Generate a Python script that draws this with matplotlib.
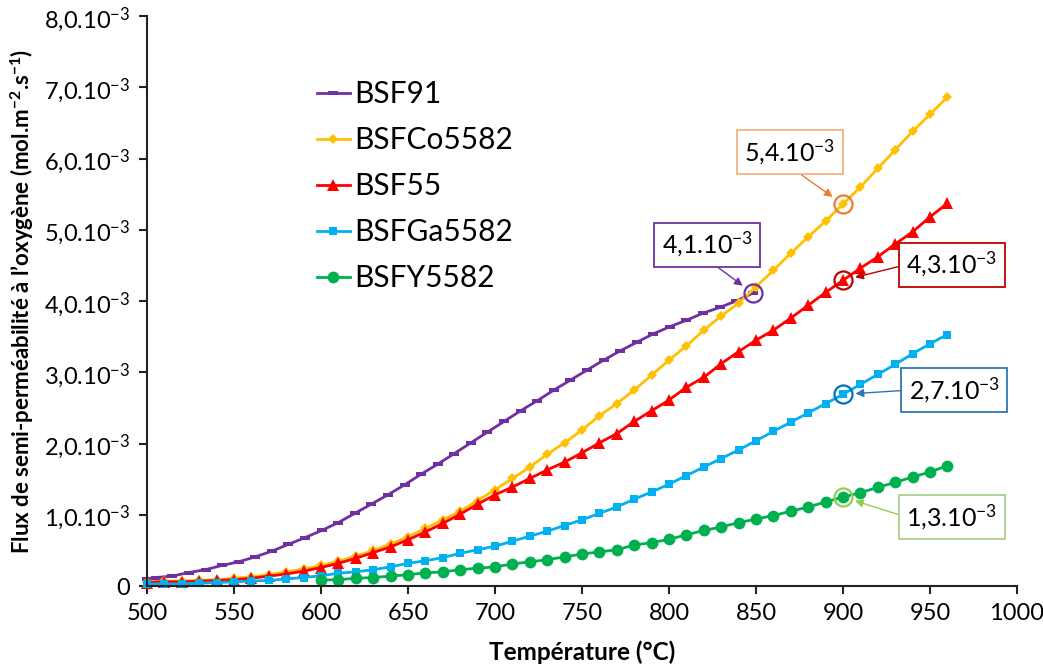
import matplotlib
matplotlib.use("Agg")
import matplotlib.pyplot as plt
from matplotlib.path import Path

plt.rcParams["font.family"] = ["Lato", "DejaVu Sans"]
plt.rcParams["mathtext.fontset"] = "custom"
plt.rcParams["mathtext.rm"] = "Lato"
plt.rcParams["mathtext.it"] = "Lato:italic"
plt.rcParams["mathtext.bf"] = "Lato:bold"

# --- data (flux in 1e-3 mol.m-2.s-1) ---------------------------------------
temp_bsf91 = [500, 505, 514.5, 524, 533.6, 543.1, 552.6, 562.2, 571.7, 581.2,
              590.8, 600.3, 609.8, 619.4, 628.9, 638.4, 648, 657.5, 667, 676.6,
              686.1, 695.6, 705.2, 714.7, 724.2, 733.8, 743.3, 752.8, 762.4,
              771.9, 781.4, 791, 800.5, 810, 819.6, 829.1, 838.6, 848.2]
flux_bsf91 = [0.10, 0.12, 0.14, 0.19, 0.23, 0.29, 0.34, 0.41, 0.49, 0.585,
              0.68, 0.78, 0.89, 1.02, 1.15, 1.28, 1.42, 1.57, 1.71, 1.86,
              2.01, 2.16, 2.31, 2.46, 2.60, 2.75, 2.89, 3.03, 3.17,
              3.30, 3.42, 3.54, 3.64, 3.73, 3.83, 3.91, 4.00, 4.11]

temp_main = list(range(500, 961, 10))
flux_bsfco = [0.06, 0.07, 0.07, 0.08, 0.09, 0.11, 0.13, 0.16, 0.20, 0.24,
              0.29, 0.35, 0.42, 0.50, 0.59, 0.69, 0.81, 0.93, 1.05, 1.20,
              1.35, 1.51, 1.67, 1.85, 2.01, 2.19, 2.39, 2.56, 2.75, 2.96,
              3.17, 3.37, 3.59, 3.79, 3.97, 4.20, 4.43, 4.67, 4.90, 5.12,
              5.36, 5.60, 5.86, 6.12, 6.38, 6.62, 6.86]
flux_bsf55 = [0.05, 0.06, 0.06, 0.07, 0.08, 0.09, 0.11, 0.14, 0.17, 0.21,
              0.26, 0.32, 0.39, 0.47, 0.55, 0.65, 0.76, 0.88, 1.01, 1.15,
              1.28, 1.39, 1.51, 1.63, 1.74, 1.87, 2.01, 2.14, 2.31, 2.46,
              2.61, 2.79, 2.93, 3.12, 3.29, 3.45, 3.59, 3.76, 3.94, 4.12,
              4.29, 4.46, 4.62, 4.80, 4.97, 5.18, 5.37]
flux_bsfga = [0.03, 0.03, 0.03, 0.04, 0.05, 0.06, 0.07, 0.08, 0.10, 0.12,
              0.145, 0.18, 0.20, 0.23, 0.27, 0.32, 0.355, 0.40, 0.46, 0.51,
              0.56, 0.63, 0.70, 0.77, 0.85, 0.93, 1.02, 1.11, 1.22, 1.32,
              1.43, 1.55, 1.67, 1.79, 1.91, 2.04, 2.17, 2.30, 2.43, 2.56,
              2.69, 2.83, 2.97, 3.11, 3.26, 3.40, 3.53]

temp_bsfy = list(range(600, 961, 10))
flux_bsfy = [0.085, 0.09, 0.11, 0.12, 0.14, 0.16, 0.185, 0.20, 0.23, 0.25,
             0.27, 0.31, 0.34, 0.37, 0.41, 0.45, 0.48, 0.51, 0.575, 0.61,
             0.655, 0.72, 0.78, 0.83, 0.89, 0.94, 0.99, 1.05, 1.11, 1.18,
             1.25, 1.31, 1.385, 1.455, 1.53, 1.60, 1.69]

series_names = ["BSF91", "BSFCo5582", "BSF55", "BSFGa5582", "BSFY5582"]
series_temps = [temp_bsf91, temp_main, temp_main, temp_main, temp_bsfy]
series_flux = [flux_bsf91, flux_bsfco, flux_bsf55, flux_bsfga, flux_bsfy]

# annotated points: (series index, temperature) and their labels
annot_series = [0, 1, 2, 3, 4]
annot_temp = [848.2, 900, 900, 900, 900]
annot_labels = ["4,1.10$^{-3}$", "5,4.10$^{-3}$", "4,3.10$^{-3}$",
                "2,7.10$^{-3}$", "1,3.10$^{-3}$"]

y_ticks = [0, 1, 2, 3, 4, 5, 6, 7, 8]
y_tick_labels = ["0"] + [f"{v},0.10$^{{-3}}$" for v in y_ticks[1:]]
x_ticks = list(range(500, 1001, 50))

# --- styling ---------------------------------------------------------------
dash_marker = Path([(-1, -0.45), (1, -0.45), (1, 0.45), (-1, 0.45), (-1, -0.45)],
                   [Path.MOVETO, Path.LINETO, Path.LINETO, Path.LINETO, Path.CLOSEPOLY])
colors = ["#7030A0", "#FFC000", "#FF0000", "#00B0F0", "#00B050"]
markers = [dash_marker, "D", "^", "s", "o"]
msizes = [7, 5.5, 8, 5.5, 8.5]

circle_colors = ["#7030A0", "#ED7D31", "#C00000", "#0070C0", "#92D050"]
box_edges = ["#7030A0", "#F4B183", "#C00000", "#2E75B6", "#A9D18E"]
arrow_colors = ["#7030A0", "#ED7D31", "#C00000", "#2E75B6", "#92D050"]
box_pos = [(822, 4.79), (869.5, 6.09), (962.5, 4.51), (964, 2.75), (962.5, 0.97)]
box_relpos = [(0.5, 0), (0.5, 0), (0, 0.5), (0, 0.5), (0, 0.5)]

fig = plt.figure(figsize=(10.43, 6.66), dpi=100)
ax = fig.add_axes([0.141, 0.120, 0.834, 0.856])

for name, t, f, c, m, ms in zip(series_names, series_temps, series_flux,
                                colors, markers, msizes):
    ax.plot(t, f, color=c, lw=2, marker=m, markersize=ms, label=name,
            markeredgewidth=0, clip_on=False)

for i, s in enumerate(annot_series):
    idx = series_temps[s].index(annot_temp[i])
    px, py = annot_temp[i], series_flux[s][idx]
    ax.plot(px, py, marker="o", markersize=13, markerfacecolor="none",
            markeredgecolor=circle_colors[i], markeredgewidth=1.6, zorder=5)
    ax.annotate(annot_labels[i], xy=(px, py), xytext=box_pos[i],
                ha="center", va="center", fontsize=18, zorder=6,
                bbox=dict(boxstyle="square,pad=0.3", fc="white",
                          ec=box_edges[i], lw=1.3),
                arrowprops=dict(arrowstyle="-|>", color=arrow_colors[i], lw=1,
                                mutation_scale=12, shrinkA=0, shrinkB=9,
                                relpos=box_relpos[i]))

ax.set_xlim(500, 1000)
ax.set_ylim(0, 8)
ax.set_xticks(x_ticks)
ax.set_yticks(y_ticks)
ax.set_yticklabels(y_tick_labels)
ax.tick_params(axis="both", direction="out", length=6, width=1.5,
               labelsize=17, color="#222222", pad=6)
for side in ["top", "right"]:
    ax.spines[side].set_visible(False)
for side in ["left", "bottom"]:
    ax.spines[side].set_color("#222222")
    ax.spines[side].set_linewidth(1.5)

ax.set_xlabel("Température (°C)", fontsize=17.5, fontweight="bold", labelpad=12)
ax.set_ylabel(r"Flux de semi-perméabilité à l’oxygène (mol.m$^{\mathbf{-2}}$.s$^{\mathbf{-1}}$)",
              fontsize=16, fontweight="bold", labelpad=6)

ax.legend(loc="upper left", bbox_to_anchor=(0.195, 0.887), frameon=False,
          fontsize=21.5, handlelength=1.1, handletextpad=0.15, labelspacing=0.6,
          borderpad=0, borderaxespad=0)

fig.savefig("out.png", dpi=100)
